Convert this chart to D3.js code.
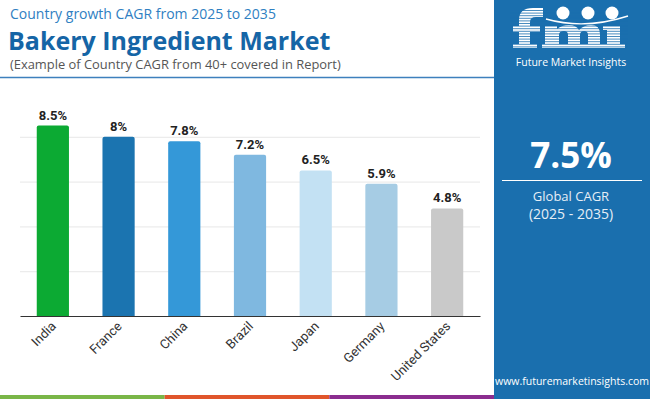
<!DOCTYPE html>
<html>
<head>
<meta charset="utf-8">
<script src="https://cdn.jsdelivr.net/npm/d3@7"></script>
<style>
  body { margin: 0; background: #fff; }
  svg { display: block; font-family: 'Open Sans', sans-serif; }
</style>
</head>
<body>
<svg id="chart"></svg>
<script>
// data
const countries = ['India', 'France', 'China', 'Brazil', 'Japan', 'Germany', 'United States'];
const cagr = [8.5, 8, 7.8, 7.2, 6.5, 5.9, 4.8];
const barColors = ['#0caa33', '#1b74b0', '#3498d8', '#7fb8e0', '#c3e1f3', '#a6cce4', '#c9c9c9'];
const gridTicks = [2, 4, 6, 8];
const globalCagr = '7.5%';

const fullWidth = 650;
const fullHeight = 399;
const panelX = 494;
const panelBlue = '#1a6fae';

const svg = d3.select('#chart')
    .attr('width', fullWidth)
    .attr('height', fullHeight);

// header
svg.append('text')
    .attr('x', 10)
    .attr('y', 19)
    .attr('fill', '#2f80c2')
    .style('font-size', '14px')
    .text('Country growth CAGR from 2025 to 2035');

svg.append('text')
    .attr('x', 8)
    .attr('y', 49.5)
    .attr('fill', '#1565a6')
    .style('font-size', '25px')
    .style('font-weight', 700)
    .text('Bakery Ingredient Market');

svg.append('text')
    .attr('x', 10)
    .attr('y', 69)
    .attr('fill', '#555')
    .style('font-size', '12.9px')
    .text('(Example of Country CAGR from 40+ covered in Report)');

svg.append('line')
    .attr('x1', 0)
    .attr('x2', panelX)
    .attr('y1', 77.5)
    .attr('y2', 77.5)
    .attr('stroke', '#3d80bd')
    .attr('stroke-width', 1.5);

// chart
const margin = { top: 92, left: 20, right: fullWidth - 480, bottom: fullHeight - 316 };
const width = fullWidth - margin.left - margin.right;
const height = fullHeight - margin.top - margin.bottom;

const g = svg.append('g')
    .attr('transform', `translate(${margin.left}, ${margin.top})`);

const x = d3.scaleBand()
    .domain(countries)
    .range([0, width])
    .paddingInner(0.51)
    .paddingOuter(0.255);

const y = d3.scaleLinear()
    .domain([0, 10])
    .range([height, 0]);

g.append('g')
    .attr('class', 'grid')
    .call(d3.axisLeft(y)
      .tickValues(gridTicks)
      .tickSize(-width)
      .tickFormat(''))
    .call(s => s.select('.domain').remove())
    .call(s => s.selectAll('line').attr('stroke', '#ececec').attr('stroke-width', 1.2));

const rows = countries.map((c, i) => ({ country: c, value: cagr[i], color: barColors[i] }));

g.selectAll('path.bar')
    .data(rows)
  .enter().append('path')
    .attr('class', 'bar')
    .attr('fill', d => d.color)
    .attr('d', (d) => {
      const x0 = x(d.country);
      const x1 = x0 + x.bandwidth();
      const y0 = y(d.value);
      const r = 2;
      return `M${x0},${height}V${y0 + r}Q${x0},${y0} ${x0 + r},${y0}H${x1 - r}Q${x1},${y0} ${x1},${y0 + r}V${height}Z`;
    });

g.selectAll('text.value')
    .data(rows)
  .enter().append('text')
    .attr('class', 'value')
    .attr('x', d => x(d.country) + x.bandwidth() / 2)
    .attr('y', d => y(d.value) - 6)
    .attr('text-anchor', 'middle')
    .attr('fill', '#222')
    .style('font-family', 'Roboto, sans-serif')
    .style('font-size', '13px')
    .style('font-weight', 700)
    .text(d => `${d.value}%`);

const xAxis = g.append('g')
    .attr('transform', `translate(0, ${height})`)
    .call(d3.axisBottom(x).tickSize(0).tickPadding(0));

xAxis.select('.domain')
    .attr('stroke', '#333')
    .attr('stroke-width', 1.2);

xAxis.selectAll('text')
    .attr('fill', '#333')
    .attr('dy', 0)
    .attr('y', 0)
    .attr('transform', 'translate(4, 11) rotate(-45)')
    .style('text-anchor', 'end')
    .style('font-family', 'Roboto, sans-serif')
    .style('font-size', '13px');

// bottom strip
const stripColors = ['#7ab648', '#e0552b', '#8b2d8f'];
const strip = d3.scaleBand().domain(d3.range(3)).range([0, panelX]);
svg.selectAll('rect.strip')
    .data(stripColors)
  .enter().append('rect')
    .attr('class', 'strip')
    .attr('x', (d, i) => strip(i))
    .attr('y', 395)
    .attr('width', strip.bandwidth())
    .attr('height', 4)
    .attr('fill', d => d);

// right panel
const panel = svg.append('g');
panel.append('rect')
    .attr('x', panelX)
    .attr('y', 0)
    .attr('width', fullWidth - panelX)
    .attr('height', fullHeight)
    .attr('fill', panelBlue);

// logo: striped f m i letters drawn as shapes
const logo = panel.append('g').attr('fill', '#fff');
logo.append('path')
    .attr('d', 'M519,48V20Q519,8 533,8H543V17H536Q530,17 530,22V48Z');
logo.append('rect').attr('x', 513).attr('y', 26).attr('width', 27).attr('height', 6);
logo.append('rect').attr('x', 513).attr('y', 44).attr('width', 24).attr('height', 4);
logo.append('path')
    .attr('d', 'M545,48V26H557V29Q562,25 569,25Q576,25 579,30Q584,25 591,25Q600,25 600,34V48H588V35Q588,31 584,31Q580,31 580,35V48H568V35Q568,31 564,31Q559,31 559,35V48Z');
logo.append('rect').attr('x', 542).attr('y', 44).attr('width', 61).attr('height', 4);
logo.append('rect').attr('x', 607).attr('y', 26).attr('width', 13).attr('height', 22);
logo.append('rect').attr('x', 603).attr('y', 44).attr('width', 22).attr('height', 4);
logo.append('rect').attr('x', 603).attr('y', 26).attr('width', 6).attr('height', 4);
d3.range(10.5, 49, 2.6).forEach((yy) => {
  logo.append('line')
      .attr('x1', 510)
      .attr('x2', 628)
      .attr('y1', yy)
      .attr('y2', yy)
      .attr('stroke', panelBlue)
      .attr('stroke-width', 0.8);
});
[[563, 13], [588, 13], [612, 13]].forEach(([cx, cy]) => {
  logo.append('circle')
      .attr('cx', cx)
      .attr('cy', cy)
      .attr('r', 6.5)
      .attr('fill', '#fff');
});
logo.append('path')
    .attr('d', 'M546,19 Q585,30 628,16')
    .attr('fill', 'none')
    .attr('stroke', '#fff')
    .attr('stroke-width', 1.4);
panel.append('text')
    .attr('x', 571)
    .attr('y', 66)
    .attr('text-anchor', 'middle')
    .attr('fill', '#fff')
    .style('font-size', '10.5px')
    .text('Future Market Insights');

panel.append('text')
    .attr('x', 571)
    .attr('y', 168)
    .attr('text-anchor', 'middle')
    .attr('fill', '#fff')
    .style('font-size', '35px')
    .style('font-weight', 700)
    .text(globalCagr);

panel.append('line')
    .attr('x1', 502)
    .attr('x2', 642)
    .attr('y1', 180.5)
    .attr('y2', 180.5)
    .attr('stroke', '#fff')
    .attr('stroke-width', 1.2);

panel.append('text')
    .attr('x', 571)
    .attr('y', 201)
    .attr('text-anchor', 'middle')
    .attr('fill', '#e6eef6')
    .style('font-size', '13px')
    .text('Global CAGR');

panel.append('text')
    .attr('x', 571)
    .attr('y', 219)
    .attr('text-anchor', 'middle')
    .attr('fill', '#e6eef6')
    .style('font-size', '14px')
    .text('(2025 - 2035)');

panel.append('text')
    .attr('x', 572)
    .attr('y', 385)
    .attr('text-anchor', 'middle')
    .attr('fill', '#fff')
    .style('font-size', '10.5px')
    .text('www.futuremarketinsights.com');
</script>
</body>
</html>
